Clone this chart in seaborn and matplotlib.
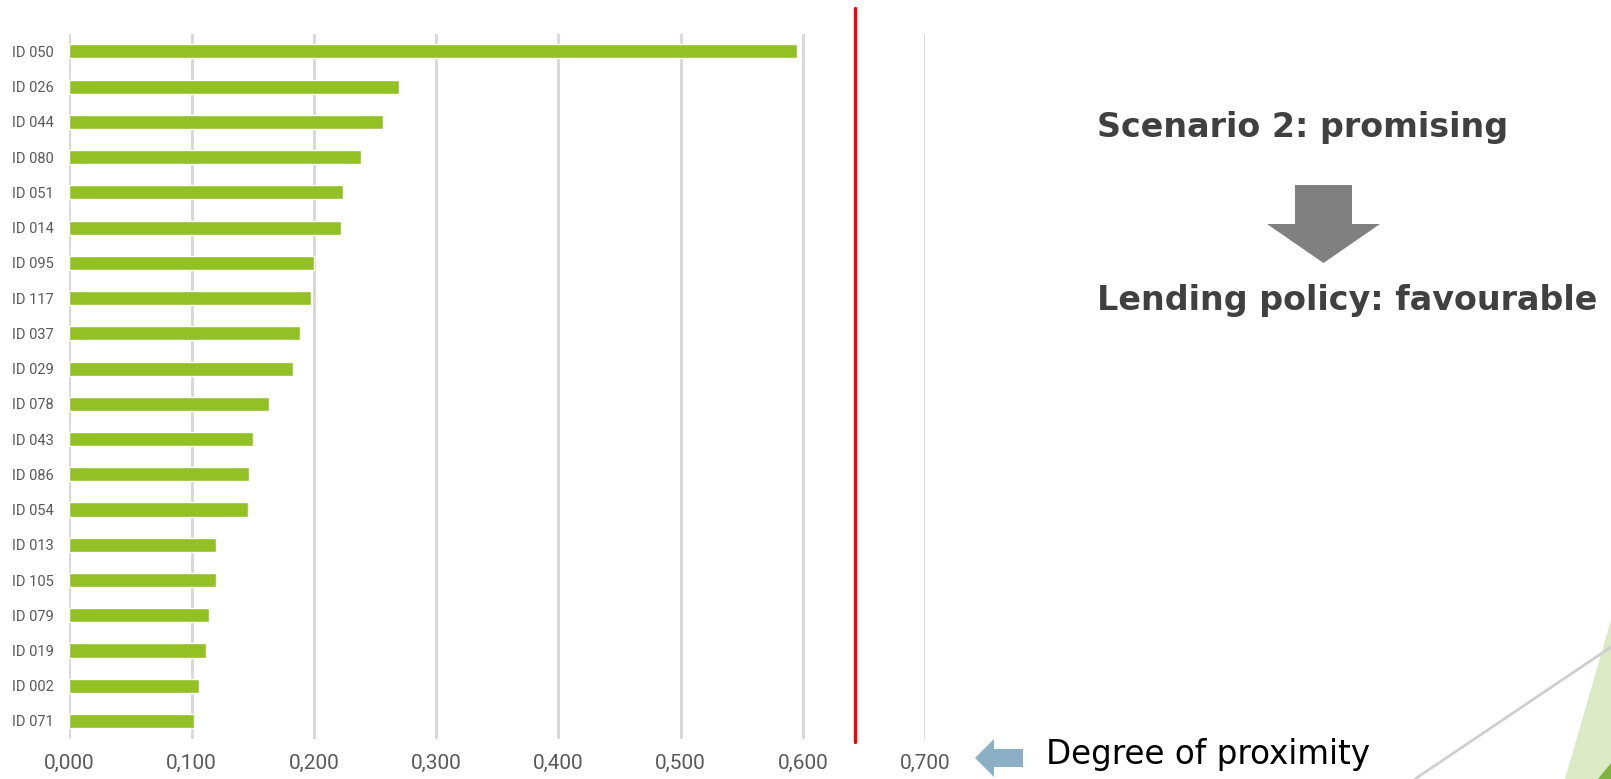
import matplotlib
matplotlib.use("Agg")
import matplotlib.pyplot as plt
import matplotlib.patches as mpatches
import seaborn as sns
import pandas as pd

# data
ids = ["ID 050", "ID 026", "ID 044", "ID 080", "ID 051", "ID 014", "ID 095",
       "ID 117", "ID 037", "ID 029", "ID 078", "ID 043", "ID 086", "ID 054",
       "ID 013", "ID 105", "ID 079", "ID 019", "ID 002", "ID 071"]
proximity = [0.595, 0.270, 0.257, 0.239, 0.224, 0.222, 0.200,
             0.198, 0.189, 0.183, 0.163, 0.150, 0.147, 0.146,
             0.120, 0.120, 0.114, 0.112, 0.106, 0.102]
threshold = 0.643
x_ticks = [0.0, 0.1, 0.2, 0.3, 0.4, 0.5, 0.6, 0.7]

df = pd.DataFrame({"id": ids, "proximity": proximity})

sns.set_theme(style="white")
plt.rcParams["font.family"] = ["DejaVu Sans"]

W, H = 1611, 779
fig = plt.figure(figsize=(W / 100, H / 100), dpi=100)
ax = fig.add_axes([69.3 / W, 1 - 738.6 / H, (925 - 69.3) / W, (738.6 - 33.8) / H])

sns.barplot(data=df, x="proximity", y="id", orient="h", color="#92c025",
            width=0.4, saturation=1, ax=ax, zorder=3)

ax.set_xlim(0, 0.7)
ax.set_xticks(x_ticks)
ax.set_xticklabels([f"{t:.3f}".replace(".", ",") for t in x_ticks],
                   fontsize=15, color="#595959", family="Roboto")
for lab in ax.get_yticklabels():
    lab.set_fontsize(10.5)
    lab.set_color("#595959")
    lab.set_family("Roboto")
ax.tick_params(axis="both", length=0)
ax.tick_params(axis="y", pad=11)
ax.tick_params(axis="x", pad=11)
ax.set_xlabel("")
ax.set_ylabel("")
for s in ax.spines.values():
    s.set_visible(False)
ax.grid(axis="x", color="#d9d9d9", linewidth=2.2, zorder=0)
ax.set_axisbelow(True)

# threshold line, runs past the plot area
ax.axvline(threshold, ymin=-0.005, ymax=1.0366, color="#ff0000",
           linewidth=2.4, clip_on=False, zorder=4)


def fx(px):
    return px / W


def fy(py):
    return 1 - py / H


# right hand annotations
fig.text(fx(1097), fy(137), "Scenario 2: promising", fontsize=24,
         fontweight="bold", color="#404040", va="baseline", ha="left")
fig.text(fx(1097), fy(310), "Lending policy: favourable", fontsize=24,
         fontweight="bold", color="#404040", va="baseline", ha="left")

down = [(1295, 185), (1352, 185), (1352, 224), (1380, 224), (1323.5, 263),
        (1267, 224), (1295, 224)]
fig.patches.append(mpatches.Polygon([(fx(a), fy(b)) for a, b in down],
                                    closed=True, transform=fig.transFigure,
                                    facecolor="#808080", edgecolor="none"))

left = [(1023, 749), (994, 749), (994, 739), (975, 758), (994, 777),
        (994, 767), (1023, 767)]
fig.patches.append(mpatches.Polygon([(fx(a), fy(b)) for a, b in left],
                                    closed=True, transform=fig.transFigure,
                                    facecolor="#8bafc4", edgecolor="none"))
fig.text(fx(1046), fy(764), "Degree of proximity", fontsize=23.5,
         color="#000000", va="baseline", ha="left")

# corner decoration
light = [(1565, 779), (1611, 620), (1611, 779)]
fig.patches.append(mpatches.Polygon([(fx(a), fy(b)) for a, b in light],
                                    closed=True, transform=fig.transFigure,
                                    facecolor="#dbeac5", edgecolor="none"))
dark = [(1598, 779), (1611, 763), (1611, 779)]
fig.patches.append(mpatches.Polygon([(fx(a), fy(b)) for a, b in dark],
                                    closed=True, transform=fig.transFigure,
                                    facecolor="#7cb342", edgecolor="none"))
fig.add_artist(plt.Line2D([fx(1415), fx(1611)], [fy(779), fy(647)],
                          transform=fig.transFigure, color="#cfcfcf",
                          linewidth=2))

fig.savefig("out.png", dpi=100)
